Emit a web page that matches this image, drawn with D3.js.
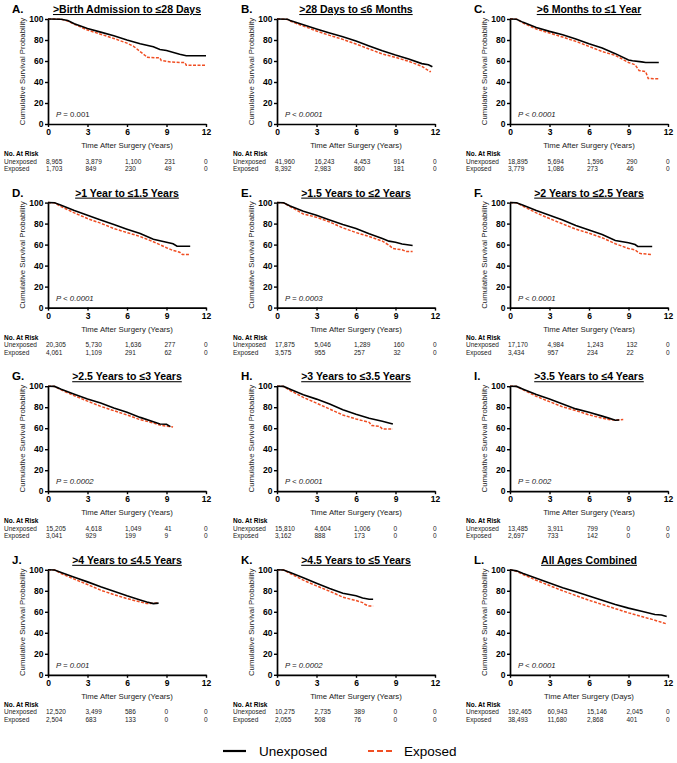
<!DOCTYPE html>
<html>
<head>
<meta charset="utf-8">
<script src="https://cdn.jsdelivr.net/npm/d3@7"></script>
<style>
  body { margin: 0; background: #fff; }
  svg { display: block; font-family: "Liberation Sans", Arial, Helvetica, sans-serif; }
</style>
</head>
<body>
<div id="chart"></div>
<script>
// Panel labels and titles
const panelLetters = ['A.', 'B.', 'C.', 'D.', 'E.', 'F.', 'G.', 'H.', 'I.', 'J.', 'K.', 'L.'];
const panelTitles = [
    '>Birth Admission to \u226428 Days', '>28 Days to \u22646 Months', '>6 Months to \u22641 Year',
    '>1 Year to \u22641.5 Years', '>1.5 Years to \u22642 Years', '>2 Years to \u22642.5 Years',
    '>2.5 Years to \u22643 Years', '>3 Years to \u22643.5 Years', '>3.5 Years to \u22644 Years',
    '>4 Years to \u22644.5 Years', '>4.5 Years to \u22645 Years', 'All Ages Combined'
];
const pValues = ['= 0.001', '< 0.0001', '< 0.0001', '< 0.0001', '= 0.0003', '< 0.0001',
                 '= 0.0002', '< 0.0001', '= 0.002', '= 0.001', '= 0.0002', '< 0.0001'];
const xTitles = ['Years', 'Years', 'Years', 'Years', 'Years', 'Years',
                 'Years', 'Years', 'Years', 'Years', 'Years', 'Days'];

const xTicks = [0, 3, 6, 9, 12];
const yTicks = [0, 20, 40, 60, 80, 100];
const seriesNames = ['Unexposed', 'Exposed'];

// Survival curves: [years, survival %]
const unexposedCurves = [
    [[0,100],[1,99.8],[1.5,98.5],[2,95.5],[3,91],[4,87.5],[5,84],[6,80],[7,76.5],[8,73.5],[8.5,71],[9,70],[10,66.5],[10.5,65],[12,65]],
    [[0,100],[0.8,99.8],[1,98.6],[2,94.6],[3,90.5],[4,86.7],[5,83],[6,79],[7,74.3],[8,69.8],[9,65.7],[10,62],[11,57.5],[11.5,56.5],[11.8,54.5]],
    [[0,100],[0.5,99.8],[1,96.8],[2,92],[3,88.2],[4,85],[5,81],[6,76.4],[7,72.3],[8,67],[9,61],[9.3,60.2],[10,59.2],[10.3,58.6],[11.3,58.6]],
    [[0,100],[0.5,99.8],[1,97.5],[2,92.4],[3,88],[4,83.5],[5,79.1],[6,74.7],[7,70.6],[8,65],[9,62.3],[9.5,60.8],[9.8,58.5],[10.8,58.5]],
    [[0,100],[0.5,99.8],[1,96.8],[2,91.8],[3,88],[4,83.5],[5,79.1],[6,75.3],[7,70.3],[8,65.8],[8.5,63.3],[9,62.3],[9.5,60.5],[10.3,59.2]],
    [[0,100],[0.5,99.8],[1,97.5],[2,92.4],[3,88],[4,83.5],[5,78.2],[6,74],[7,69.6],[8,63.9],[9,61.7],[9.5,60.1],[9.7,58.2],[10.8,58.2]],
    [[0,100],[0.5,99.8],[1,97.2],[2,92.4],[3,87.7],[4,83.9],[5,79.2],[6,75.1],[7,70.3],[8,66.2],[8.5,64],[9,63.7],[9.3,61.5]],
    [[0,100],[0.5,99.8],[1,97.2],[2,91.8],[3,87.7],[4,83],[5,77.6],[6,73.2],[7,69.4],[8,66.6],[8.5,65],[8.8,64]],
    [[0,100],[0.5,99.8],[1,97.2],[2,92.2],[3,87.8],[4,83.1],[5,78.4],[6,75.2],[7,71.5],[7.5,69.6],[8,67.6],[8.3,67.8]],
    [[0,100],[0.5,99.8],[1,97.5],[2,93],[3,88.5],[4,83.8],[5,79.6],[6,75.2],[7,71.3],[7.5,69.4],[8,67.8],[8.4,68.3]],
    [[0,100],[0.5,99.8],[1,97.5],[2,92.4],[3,87.3],[4,82.2],[5,77.7],[6,75.2],[6.5,73.2],[7,72],[7.3,72]],
    [[0,100],[0.5,99],[1,96.5],[2,92],[3,87.5],[4,83],[5,79],[6,75],[7,71],[8,67],[9,63.5],[10,60.5],[11,57.5],[11.5,57],[11.9,55.5]]
];
const exposedCurves = [
    [[0,100],[1,99.8],[1.5,98],[2,95],[3,89.5],[4,85.5],[5,81.5],[6,77],[6.5,74],[7,69],[7.4,65],[7.5,63.5],[8.5,63],[8.6,60.5],[9.3,59],[10.4,58.5],[10.5,56],[12,56]],
    [[0,100],[0.8,99.6],[1,98],[2,93.3],[3,88.6],[4,84.4],[5,80.6],[6,76.2],[7,71.4],[8,66.7],[9,63.5],[10,59.7],[11,55],[11.3,52.4],[11.6,50],[11.7,50]],
    [[0,100],[0.5,99.8],[1,96.2],[2,90.4],[3,86.6],[4,82.8],[5,78.7],[6,73.9],[7,69],[8,65.3],[9,58.6],[9.5,56.4],[9.8,51],[10.3,50],[10.5,43.3],[11.3,43]],
    [[0,100],[0.5,99.8],[1,96.2],[2,90.2],[3,84.8],[4,80.4],[5,75.3],[6,71.5],[7,67.7],[8,62.7],[9,57],[9.5,54.4],[10,52.8],[10.2,50.6],[10.8,50.6]],
    [[0,100],[0.5,99.8],[1,96.2],[2,89.2],[3,86],[4,81.6],[5,75.9],[6,71.5],[7,67.7],[8,63.3],[8.5,59.5],[8.8,56.3],[9.5,55],[9.8,53.5],[10.3,53.5]],
    [[0,100],[0.5,99.8],[1,96.5],[2,90.2],[3,84.8],[4,79.7],[5,74.7],[6,70.9],[7,66.5],[8,60.8],[9,56.3],[9.5,55],[9.8,51.9],[10,51.3],[10.8,50.6]],
    [[0,100],[0.5,99.8],[1,96.5],[2,90.9],[3,85.8],[4,80.8],[5,76.7],[6,72.6],[7,68.1],[8,65],[8.5,63],[9,61.8],[9.5,61.2]],
    [[0,100],[0.5,99.8],[1,95.9],[2,89.3],[3,83.9],[4,78.2],[5,72.6],[6,68.8],[7,65.6],[7.2,62.5],[7.8,61.8],[8,59.3],[8.8,59.3]],
    [[0,100],[0.5,99.8],[1,96.6],[2,90.3],[3,85.3],[4,80.3],[5,76.8],[6,72.7],[7,69.6],[7.5,68.3],[8,67.7],[8.6,68.3]],
    [[0,100],[0.5,99.8],[1,96.5],[2,91.1],[3,86],[4,80.6],[5,76.4],[6,72.6],[7,69.4],[7.5,67.8],[8,68.2],[8.4,68.5]],
    [[0,100],[0.5,99.8],[1,96.5],[2,90.1],[3,84.7],[4,79.6],[5,73.9],[6,70.7],[6.5,68.8],[6.7,66.9],[7,65.6],[7.3,65.6]],
    [[0,100],[0.5,98.5],[1,95.5],[2,90],[3,85],[4,80],[5,75.5],[6,71],[7,67],[8,63],[9,59],[10,55.5],[11,52],[11.5,50],[11.9,48.5]]
];

// Numbers at risk at 0, 3, 6, 9, 12
const atRiskUnexposed = [
    ['8,965','3,879','1,100','231','0'], ['41,960','16,243','4,453','914','0'], ['18,895','5,694','1,596','290','0'],
    ['20,305','5,730','1,636','277','0'], ['17,875','5,046','1,289','160','0'], ['17,170','4,984','1,243','132','0'],
    ['15,205','4,618','1,049','41','0'], ['15,810','4,604','1,006','0','0'], ['13,485','3,911','799','0','0'],
    ['12,520','3,499','586','0','0'], ['10,275','2,735','389','0','0'], ['192,465','60,943','15,146','2,045','0']
];
const atRiskExposed = [
    ['1,703','849','230','49','0'], ['8,392','2,983','860','181','0'], ['3,779','1,086','273','46','0'],
    ['4,061','1,109','291','62','0'], ['3,575','955','257','32','0'], ['3,434','957','234','22','0'],
    ['3,041','929','199','9','0'], ['3,162','888','173','0','0'], ['2,697','733','142','0','0'],
    ['2,504','683','133','0','0'], ['2,055','508','76','0','0'], ['38,493','11,680','2,868','401','0']
];

const RED = '#f04e23';

function createVisualization(width, height) {
    d3.select('#chart').selectAll('*').remove();

    const svg = d3.select('#chart')
        .append('svg')
        .attr('width', width)
        .attr('height', height);

    // Layout of the 3 x 4 grid
    const colX = [48, 277, 510];
    const plotW = 158;
    const plotH = 105;
    const rowTop = r => 19 + r * 183.6;

    const xScale = d3.scaleLinear().domain([0, 12]).range([0, plotW]);
    const yScale = d3.scaleLinear().domain([0, 100]).range([plotH, 0]);

    const line = d3.line()
        .x(d => xScale(d[0]))
        .y(d => yScale(d[1]));

    panelLetters.forEach((letter, i) => {
        const g = svg.append('g')
            .attr('transform', `translate(${colX[i % 3]},${rowTop(Math.floor(i / 3))})`);

        // Panel letter and title
        g.append('text')
            .attr('x', -36)
            .attr('y', -6)
            .style('font-size', '11.5px')
            .style('font-weight', 'bold')
            .text(letter);

        g.append('text')
            .attr('x', plotW / 2)
            .attr('y', -6)
            .attr('text-anchor', 'middle')
            .style('font-size', '10.5px')
            .style('font-weight', 'bold')
            .style('text-decoration', 'underline')
            .text(panelTitles[i]);

        // Curves
        g.append('path')
            .datum(exposedCurves[i])
            .attr('d', line)
            .attr('fill', 'none')
            .attr('stroke', RED)
            .attr('stroke-width', 1.5)
            .attr('stroke-dasharray', '3,1.5');

        g.append('path')
            .datum(unexposedCurves[i])
            .attr('d', line)
            .attr('fill', 'none')
            .attr('stroke', '#000')
            .attr('stroke-width', 1.6);

        // Axes
        const yAxis = g.append('g')
            .call(d3.axisLeft(yScale).tickValues(yTicks).tickSize(3).tickSizeOuter(0).tickPadding(1.5));
        const xAxis = g.append('g')
            .attr('transform', `translate(0,${plotH})`)
            .call(d3.axisBottom(xScale).tickValues(xTicks).tickSize(3).tickSizeOuter(0).tickPadding(2));

        [yAxis, xAxis].forEach(ax => {
            ax.select('.domain').attr('stroke-width', 1.7);
            ax.selectAll('.tick line').attr('stroke-width', 1.4);
            ax.selectAll('.tick text')
                .attr('fill', '#000')
                .style('font-family', '"Liberation Sans", Arial, sans-serif')
                .style('font-size', '8.5px')
                .style('font-weight', 'bold');
        });

        // Axis labels
        g.append('text')
            .attr('transform', `translate(-23,${plotH / 2}) rotate(-90)`)
            .attr('text-anchor', 'middle')
            .style('font-size', '7.8px')
            .style('fill', '#222')
            .text('Cumulative Survival Probability');

        g.append('text')
            .attr('x', plotW / 2)
            .attr('y', plotH + 24)
            .attr('text-anchor', 'middle')
            .style('font-size', '7.8px')
            .style('fill', '#222')
            .text(`Time After Surgery (${xTitles[i]})`);

        // P value
        const p = g.append('text')
            .attr('x', 8)
            .attr('y', plotH - 7)
            .style('font-size', '7.8px')
            .style('fill', '#222');
        p.append('tspan').style('font-style', 'italic').text('P');
        p.append('tspan')
            .style('font-style', i === 0 ? 'normal' : 'italic')
            .text(' ' + pValues[i]);

        // Numbers at risk
        g.append('text')
            .attr('x', -44)
            .attr('y', plotH + 32)
            .style('font-size', '6.5px')
            .style('font-weight', 'bold')
            .text('No. At Risk');

        [atRiskUnexposed[i], atRiskExposed[i]].forEach((row, k) => {
            const ty = plotH + 39.5 + k * 7.5;
            g.append('text')
                .attr('x', -44)
                .attr('y', ty)
                .style('font-size', '6.5px')
                .style('fill', '#222')
                .text(seriesNames[k]);
            row.forEach((v, j) => {
                g.append('text')
                    .attr('x', xScale(xTicks[j]) - 2)
                    .attr('y', ty)
                    .style('font-size', '6.5px')
                    .style('fill', '#222')
                    .text(v);
            });
        });
    });

    // Legend at the bottom
    const legend = svg.append('g').attr('transform', 'translate(223,751)');
    legend.append('line')
        .attr('x1', 0).attr('x2', 23).attr('y1', 0).attr('y2', 0)
        .attr('stroke', '#000').attr('stroke-width', 2.2);
    legend.append('text')
        .attr('x', 36).attr('y', 5)
        .style('font-size', '13.5px')
        .text(seriesNames[0]);
    legend.append('line')
        .attr('x1', 145).attr('x2', 170).attr('y1', 0).attr('y2', 0)
        .attr('stroke', RED).attr('stroke-width', 2.2)
        .attr('stroke-dasharray', '6,3');
    legend.append('text')
        .attr('x', 181).attr('y', 5)
        .style('font-size', '13.5px')
        .text(seriesNames[1]);
}

createVisualization(677, 763);
</script>
</body>
</html>
